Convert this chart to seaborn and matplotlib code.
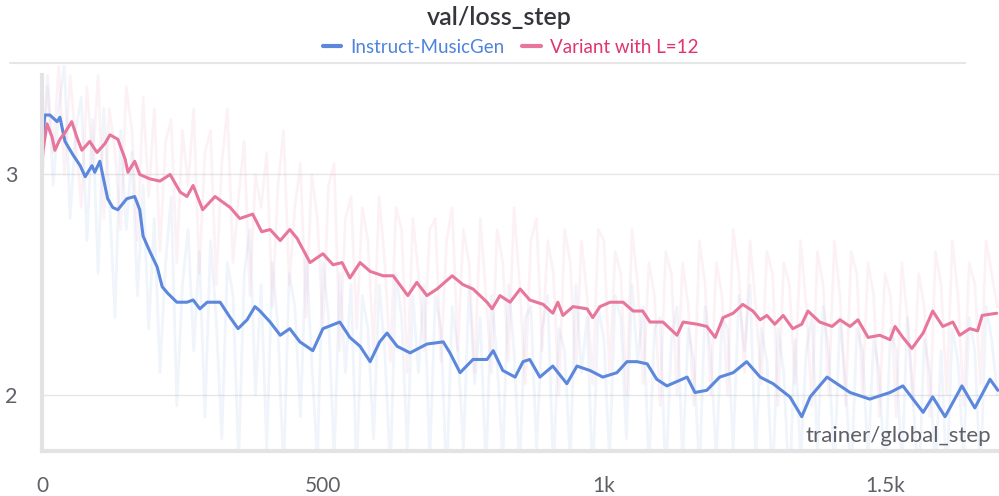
import numpy as np
import pandas as pd
import seaborn as sns
import matplotlib.pyplot as plt
from matplotlib.lines import Line2D

# smoothed curves
blue_step = [0, 5, 14, 27, 32, 41, 55, 68, 77, 89, 94, 103, 112, 117, 126, 135, 151, 165, 174, 180,
             192, 205, 214, 224, 240, 258, 269, 281, 294, 317, 335, 349, 365, 379, 388, 406, 424, 441,
             459, 482, 500, 530, 548, 566, 584, 601, 614, 632, 655, 685, 714, 726, 744, 767, 792, 803,
             820, 842, 856, 868, 886, 909, 934, 952, 975, 998, 1023, 1041, 1059, 1077, 1094, 1112,
             1130, 1148, 1162, 1183, 1206, 1230, 1254, 1278, 1301, 1331, 1352, 1367, 1397, 1438, 1473,
             1509, 1532, 1568, 1585, 1607, 1637, 1660, 1687, 1701]
blue_loss = [3.12, 3.27, 3.27, 3.24, 3.26, 3.15, 3.09, 3.04, 2.99, 3.04, 3.01, 3.06, 2.95, 2.89, 2.85,
             2.84, 2.89, 2.90, 2.84, 2.72, 2.65, 2.58, 2.49, 2.46, 2.42, 2.42, 2.43, 2.39, 2.42, 2.42,
             2.35, 2.30, 2.34, 2.40, 2.38, 2.33, 2.27, 2.30, 2.24, 2.20, 2.30, 2.33, 2.26, 2.22, 2.15,
             2.24, 2.28, 2.22, 2.19, 2.23, 2.24, 2.19, 2.10, 2.16, 2.16, 2.20, 2.11, 2.08, 2.15, 2.16,
             2.08, 2.13, 2.05, 2.13, 2.11, 2.08, 2.10, 2.15, 2.15, 2.14, 2.07, 2.04, 2.06, 2.08, 2.01,
             2.02, 2.08, 2.10, 2.15, 2.08, 2.05, 1.99, 1.90, 1.99, 2.08, 2.01, 1.98, 2.01, 2.04, 1.92,
             1.99, 1.90, 2.04, 1.94, 2.07, 2.02]

pink_step = [0, 2, 9, 18, 23, 32, 41, 53, 62, 71, 85, 98, 112, 121, 135, 148, 153, 165, 174, 192, 210,
             228, 246, 258, 269, 286, 308, 335, 352, 375, 391, 406, 424, 441, 454, 477, 500, 518, 534,
             548, 566, 584, 607, 625, 651, 667, 685, 703, 730, 749, 767, 792, 801, 815, 833, 851, 868,
             892, 909, 918, 927, 945, 970, 980, 993, 1011, 1034, 1052, 1069, 1082, 1105, 1130, 1141,
             1166, 1183, 1198, 1212, 1230, 1247, 1265, 1278, 1290, 1304, 1319, 1336, 1352, 1363, 1384,
             1406, 1420, 1438, 1452, 1470, 1491, 1509, 1518, 1532, 1548, 1568, 1585, 1603, 1621, 1633,
             1651, 1665, 1673, 1699]
pink_loss = [3.05, 3.11, 3.23, 3.17, 3.11, 3.16, 3.19, 3.24, 3.17, 3.11, 3.15, 3.10, 3.14, 3.18, 3.16,
             3.07, 3.01, 3.06, 3.00, 2.98, 2.97, 3.00, 2.92, 2.90, 2.95, 2.84, 2.90, 2.85, 2.80, 2.82,
             2.74, 2.75, 2.70, 2.75, 2.71, 2.60, 2.64, 2.59, 2.60, 2.53, 2.60, 2.56, 2.54, 2.54, 2.45,
             2.51, 2.45, 2.48, 2.54, 2.50, 2.48, 2.42, 2.39, 2.45, 2.42, 2.48, 2.43, 2.41, 2.37, 2.42,
             2.36, 2.40, 2.39, 2.35, 2.40, 2.42, 2.42, 2.38, 2.38, 2.33, 2.33, 2.27, 2.33, 2.32, 2.31,
             2.26, 2.35, 2.37, 2.41, 2.38, 2.34, 2.36, 2.32, 2.36, 2.30, 2.32, 2.38, 2.33, 2.31, 2.34,
             2.31, 2.34, 2.26, 2.27, 2.25, 2.31, 2.26, 2.21, 2.28, 2.38, 2.31, 2.33, 2.27, 2.30, 2.29,
             2.36, 2.37]

# raw (unsmoothed) values, every 10 steps
raw_step = np.arange(0, 1710, 10)
blue_raw = [3.05, 3.45, 2.95, 3.3, 3.5, 2.8, 3.2, 3.35, 2.7, 3.25,
            2.55, 3.3, 2.9, 2.35, 3.2, 2.75, 3.1, 2.45, 2.95, 2.3,
            2.8, 2.1, 2.6, 2.9, 1.95, 2.5, 2.75, 2.2, 2.65, 1.9,
            2.7, 2.35, 1.8, 2.6, 2.45, 1.7, 2.55, 2.75, 2.0, 2.5,
            1.75, 2.6, 2.3, 1.65, 2.55, 2.4, 1.9, 2.65, 2.15, 1.7,
            2.6, 2.35, 1.7, 2.55, 2.1, 2.5, 1.65, 2.45, 2.3, 1.8,
            2.5, 2.2, 1.65, 2.55, 2.35, 1.75, 2.45, 2.1, 2.5, 1.7,
            2.45, 2.3, 1.6, 2.4, 2.2, 1.75, 2.5, 2.05, 2.35, 1.65,
            2.45, 2.15, 1.7, 2.5, 2.2, 1.65, 2.35, 2.4, 1.75, 2.3,
            2.45, 1.65, 2.3, 2.2, 1.7, 2.5, 2.1, 2.35, 1.6, 2.4,
            2.25, 1.7, 2.45, 2.35, 1.8, 2.5, 2.15, 2.4, 1.65, 2.3,
            2.35, 1.6, 2.25, 2.4, 1.7, 2.3, 2.15, 1.65, 2.4, 2.2,
            1.7, 2.35, 2.3, 1.75, 2.45, 2.2, 2.5, 1.7, 2.3, 2.15,
            1.6, 2.3, 2.1, 1.55, 2.25, 1.7, 2.2, 2.35, 1.75, 2.4,
            2.2, 1.65, 2.35, 2.05, 1.6, 2.3, 2.2, 1.7, 2.25, 2.1,
            1.6, 2.3, 2.2, 1.65, 2.35, 2.0, 1.55, 2.25, 2.1, 1.65,
            2.2, 1.6, 2.3, 2.15, 1.7, 2.35, 2.2, 1.6, 2.4, 2.25,
            2.0]
pink_raw = [2.95, 3.4, 3.1, 3.5, 3.0, 3.45, 3.15, 2.85, 3.4, 3.05,
            3.45, 2.8, 3.3, 3.1, 2.75, 3.4, 3.2, 2.7, 3.35, 2.9,
            3.3, 2.65, 3.15, 3.25, 2.6, 3.2, 2.95, 3.3, 2.55, 3.1,
            3.2, 2.5, 3.05, 3.3, 2.6, 2.9, 3.15, 2.45, 3.0, 2.85,
            3.1, 2.4, 2.95, 3.2, 2.5, 2.85, 3.05, 2.35, 3.0, 2.8,
            2.3, 2.95, 3.05, 2.2, 2.8, 2.9, 2.3, 2.85, 2.7, 2.2,
            2.9, 2.6, 2.15, 2.85, 2.75, 2.1, 2.8, 2.55, 2.2, 2.75,
            2.8, 2.15, 2.7, 2.85, 2.2, 2.75, 2.6, 2.1, 2.8, 2.45,
            2.1, 2.75, 2.6, 2.15, 2.85, 2.5, 2.05, 2.7, 2.8, 2.2,
            2.7, 2.55, 2.0, 2.75, 2.6, 2.1, 2.7, 2.45, 2.05, 2.75,
            2.7, 2.1, 2.65, 2.55, 2.0, 2.75, 2.5, 2.05, 2.6, 2.45,
            1.95, 2.65, 2.55, 2.0, 2.6, 2.4, 1.95, 2.7, 2.5, 2.0,
            2.6, 2.45, 2.0, 2.75, 2.55, 2.1, 2.7, 2.4, 2.05, 2.65,
            2.55, 1.95, 2.6, 2.5, 2.05, 2.7, 2.4, 1.95, 2.65, 2.5,
            2.0, 2.7, 2.45, 1.95, 2.65, 2.55, 2.0, 2.6, 2.45, 1.9,
            2.55, 2.45, 1.9, 2.6, 2.35, 1.95, 2.55, 2.4, 1.9, 2.65,
            2.5, 2.0, 2.7, 2.45, 1.95, 2.6, 2.5, 2.05, 2.7, 2.55,
            2.4]

names = ["Instruct-MusicGen", "Variant with L=12"]
line_colors = ["#5b87dc", "#e8769b"]
text_colors = ["#4f83dc", "#e0346b"]
xticks = [0, 500, 1000, 1500]
xtick_labels = ["0", "500", "1k", "1.5k"]

smooth = pd.concat([
    pd.DataFrame({"step": blue_step, "loss": blue_loss, "run": names[0]}),
    pd.DataFrame({"step": pink_step, "loss": pink_loss, "run": names[1]}),
])
raw = pd.concat([
    pd.DataFrame({"step": raw_step, "loss": blue_raw, "run": names[0]}),
    pd.DataFrame({"step": raw_step, "loss": pink_raw, "run": names[1]}),
])

sns.set_theme(style="white")
plt.rcParams["font.family"] = ["Lato", "DejaVu Sans"]

fig = plt.figure(figsize=(9.99, 4.96), dpi=100)
ax = fig.add_axes([0.042, 0.091, 0.958, 0.777])

pal = dict(zip(names, line_colors))
sns.lineplot(data=raw, x="step", y="loss", hue="run", palette=pal, estimator=None,
             linewidth=2.0, alpha=0.09, legend=False, ax=ax)
sns.lineplot(data=smooth, x="step", y="loss", hue="run", palette=pal, estimator=None,
             linewidth=2.2, legend=False, ax=ax)

ax.set_xlim(0, 1703)
ax.set_ylim(1.745, 3.495)
ax.set_xticks(xticks, xtick_labels)
ax.set_yticks([2, 3], ["2", "3"])
ax.grid(axis="y", color="#e6e6e8", linewidth=1)
ax.set_axisbelow(True)
ax.set_xlabel("")
ax.set_ylabel("")
ax.tick_params(axis="x", labelsize=15, colors="#e3e3e5", labelcolor="#5f6068",
               length=5, width=1, pad=13)
ax.tick_params(axis="y", labelsize=15.5, colors="#e6e6e8", labelcolor="#5f6068",
               length=6.5, width=1, pad=11)

for s in ["top", "right"]:
    ax.spines[s].set_visible(False)
ax.spines["left"].set_color("#e3e3e5")
ax.spines["left"].set_linewidth(3)
ax.spines["left"].set_bounds(1.745, 3.45)
ax.spines["bottom"].set_color("#e3e3e5")
ax.spines["bottom"].set_linewidth(3)

ax.text(0.992, 0.012, "trainer/global_step", transform=ax.transAxes, ha="right", va="bottom",
        fontsize=16, color="#5f6068")

fig.text(0.5, 0.965, "val/loss_step", ha="center", va="center", fontsize=18,
         fontweight="semibold", color="#35363c")

handles = [Line2D([0], [0], color=c, linewidth=3) for c in line_colors]
leg = fig.legend(handles, names, loc="center", bbox_to_anchor=(0.511, 0.905), ncol=2,
                 frameon=False, fontsize=13.5, handlelength=1.0, handletextpad=0.5,
                 columnspacing=0.9)
for t, c in zip(leg.get_texts(), text_colors):
    t.set_color(c)

fig.add_artist(Line2D([0.01, 0.966], [0.873, 0.873], color="#e6e6e8", linewidth=1.5,
                      transform=fig.transFigure))

fig.savefig("out.png", dpi=100)
